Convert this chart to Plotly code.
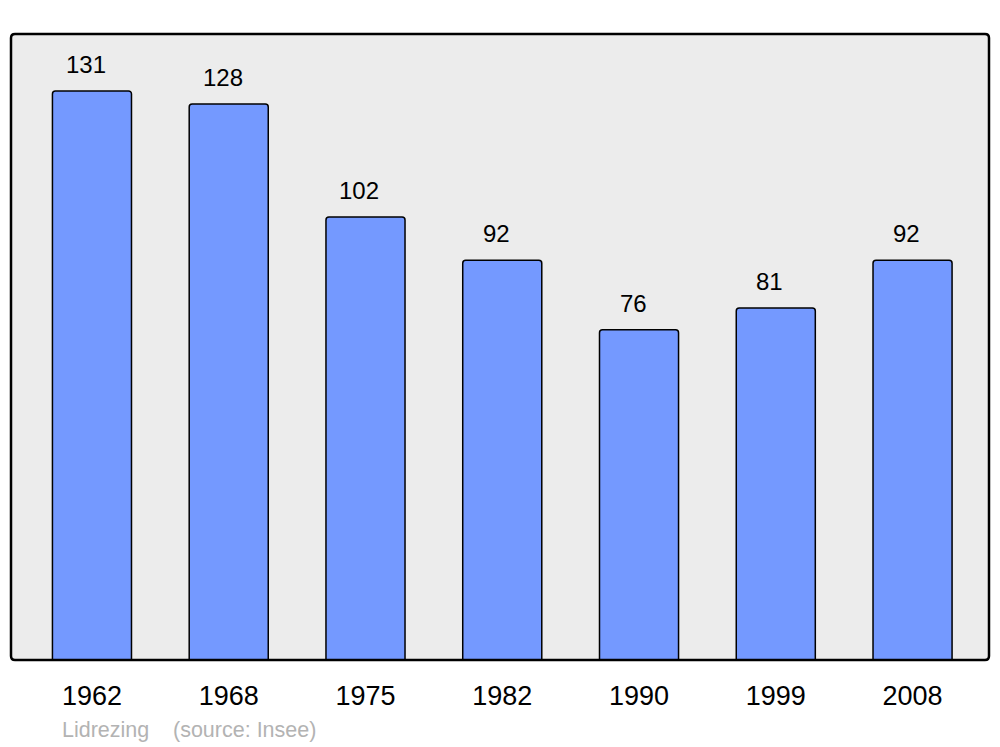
import plotly.graph_objects as go

years = ["1962", "1968", "1975", "1982", "1990", "1999", "2008"]
population = [131, 128, 102, 92, 76, 81, 92]
footer_author = "Lidrezing"
footer_source = "(source: Insee)"

W, H = 1000, 747
L, R, T, B = 11, 11, 34, 87
pw, ph = W - L - R, H - T - B

fig = go.Figure()
fig.add_trace(go.Bar(
    x=years, y=population,
    width=0.578,
    marker=dict(color="#7499ff", line=dict(color="#000000", width=1.5), cornerradius=3),
    hoverinfo="x+y",
))

for i, v in enumerate(population):
    fig.add_annotation(x=i, y=v, text=str(v), showarrow=False,
                       xref="x", yref="y",
                       yanchor="bottom", yshift=11, xshift=-6,
                       font=dict(family="Liberation Sans", size=24, color="#000000"))

fy = (T + ph - 730) / ph
fig.add_annotation(xref="paper", yref="paper", x=(60 - L) / pw, y=fy,
                   xanchor="left", yanchor="middle", text=footer_author, showarrow=False,
                   font=dict(family="Liberation Sans", size=21.5, color="#b3b3b3"))
fig.add_annotation(xref="paper", yref="paper", x=(171 - L) / pw, y=fy,
                   xanchor="left", yanchor="middle", text=footer_source, showarrow=False,
                   font=dict(family="Liberation Sans", size=21.5, color="#b3b3b3"))

# rounded frame around the plot area (paper coordinates)
rx, ry = 4 / pw, 4 / ph
path = (f"M {rx},0 L {1-rx},0 Q 1,0 1,{ry} L 1,{1-ry} Q 1,1 {1-rx},1 "
        f"L {rx},1 Q 0,1 0,{1-ry} L 0,{ry} Q 0,0 {rx},0 Z")
fig.add_shape(type="path", xref="paper", yref="paper", path=path,
              line=dict(color="#000000", width=2.5), layer="above")

fig.update_layout(
    width=W, height=H,
    margin=dict(l=L, r=R, t=T, b=B),
    paper_bgcolor="#ffffff", plot_bgcolor="#ececec",
    showlegend=False,
    font=dict(family="Liberation Sans"),
    xaxis=dict(type="category", range=[-0.592, 6.559], showgrid=False, zeroline=False,
               showline=False, ticks="outside", ticklen=12, tickcolor="rgba(0,0,0,0)",
               tickfont=dict(family="Liberation Sans", size=27, color="#000000")),
    yaxis=dict(range=[0, 144.1], showgrid=False, zeroline=False, showline=False,
               showticklabels=False, ticks=""),
)

fig.write_html("out.html", config={"displayModeBar": False},
               post_script="document.body.style.margin='0';document.body.style.overflow='hidden';")
